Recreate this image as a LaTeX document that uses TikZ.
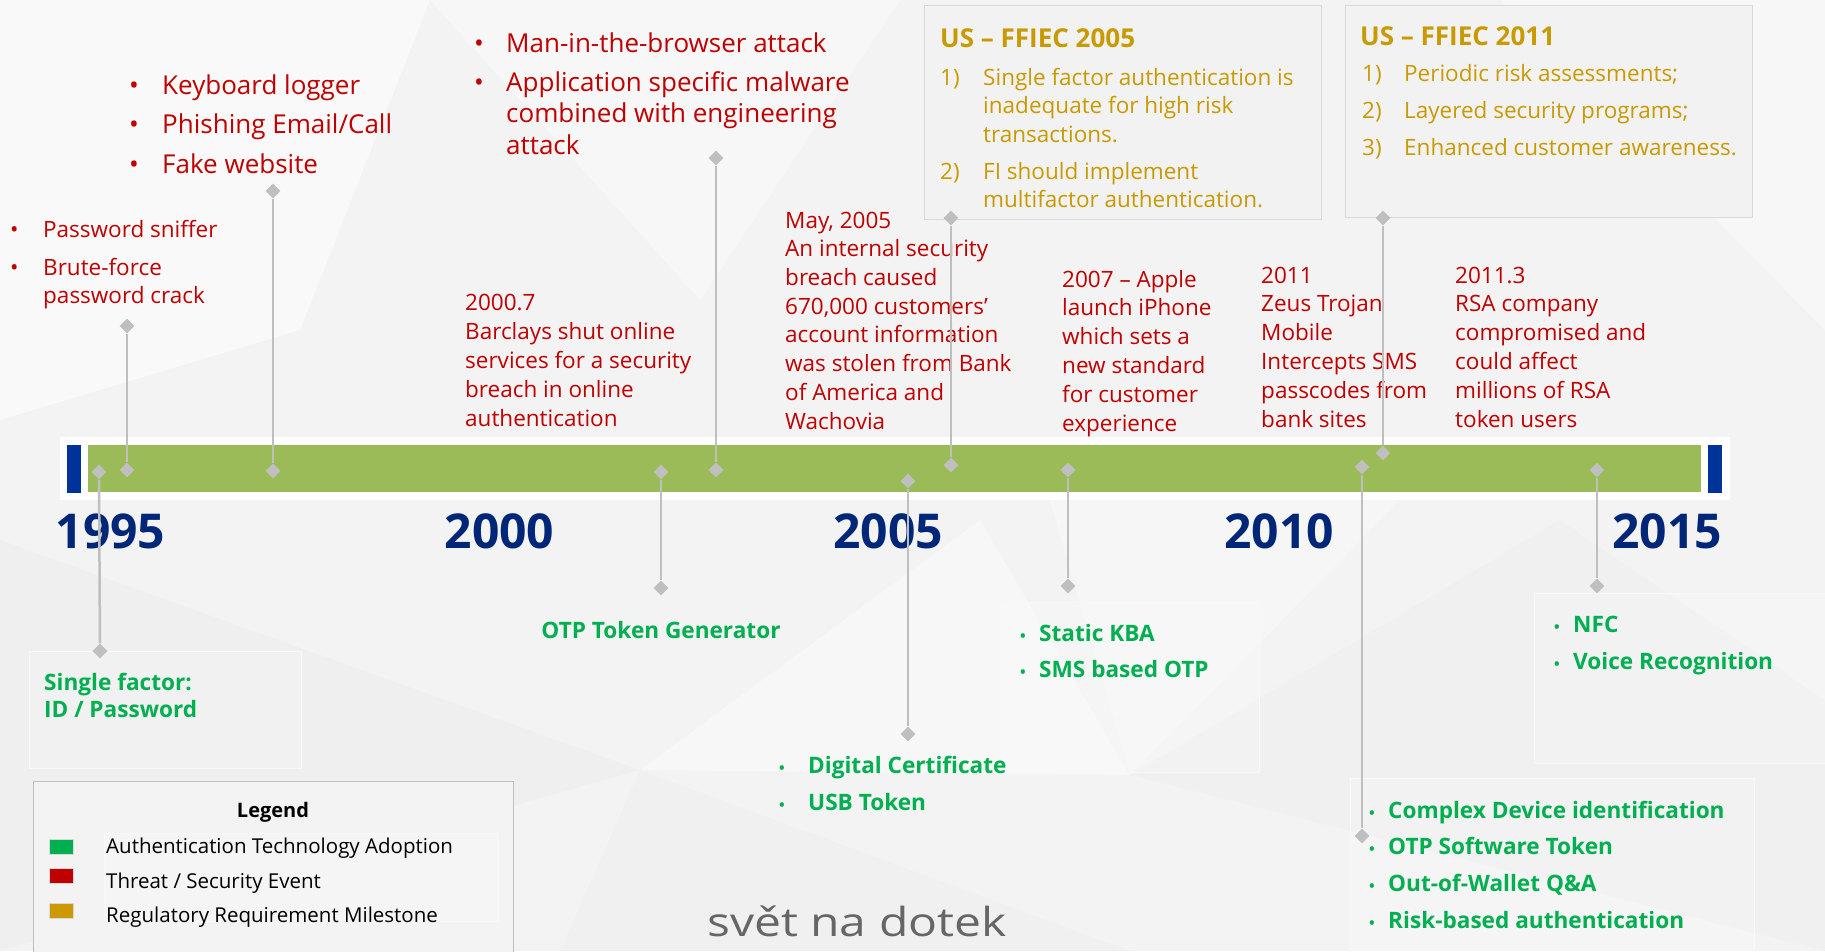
\documentclass[tikz,border=0pt]{standalone}
\usepackage{fontspec}
\setmainfont{Open Sans}
\usetikzlibrary{shapes.geometric}
\definecolor{bgc}{HTML}{F3F3F3}
\definecolor{barGreen}{HTML}{9BBB59}
\definecolor{barBlue}{HTML}{003399}
\definecolor{yearBlue}{HTML}{002677}
\definecolor{threat}{HTML}{C00000}
\definecolor{auth}{HTML}{00B050}
\definecolor{reg}{HTML}{C99A00}
\definecolor{conn}{HTML}{BFBFBF}
\newcommand{\mybul}[1]{\makebox[#1][l]{•}}
\newcommand{\gbul}[1]{\makebox[#1][l]{\fontsize{15}{15}\selectfont •}}
\tikzset{
  dia/.style={diamond, fill=conn, inner sep=0pt, minimum width=15pt, minimum height=15pt},
  link/.style={draw=conn, line width=2.5pt},
  txt/.style={inner sep=0pt, anchor=north west, align=left},
  threatS/.style={txt, text=threat, font=\fontsize{22.5}{28.8}\selectfont},
  threatL/.style={txt, text=threat, font=\fontsize{26}{31.5}\selectfont},
  regtext/.style={txt, text=reg, font=\fontsize{22.5}{28.5}\selectfont},
  regtitle/.style={inner sep=0pt, anchor=base west, text=reg, font=\fontsize{26}{30}\selectfont\bfseries},
  regbox/.style={draw=black!15, fill=black!5, line width=1pt, anchor=north west, inner sep=0pt},
  authtext/.style={txt, text=auth, font=\fontsize{22.6}{27}\selectfont\bfseries},
  year/.style={inner sep=0pt, anchor=base, text=yearBlue, font=\fontsize{48}{48}\selectfont\bfseries},
  faint/.style={draw=white!40!bgc, fill=white, fill opacity=0.18, line width=1pt},
  legsq/.style={minimum width=24pt, minimum height=15pt, inner sep=0pt, draw=black!15, line width=0.6pt},
  legtext/.style={inner sep=0pt, anchor=base west, text=black, font=\fontsize{20.5}{24}\selectfont},
}
\begin{document}
\begin{tikzpicture}[x=1pt,y=-1pt]
\useasboundingbox (0,0) rectangle (1825,951);
\clip (0,0) rectangle (1825,951);
% background
\fill[bgc] (0,0) rectangle (1825,951);
\fill[white, opacity=0.55] (0,0) -- (430,0) -- (300,330) -- (0,420) -- cycle;
\fill[white, opacity=0.4] (430,0) -- (900,0) -- (700,300) -- cycle;
\fill[black, opacity=0.015] (0,540) -- (640,770) -- (0,951) -- cycle;
\fill[black, opacity=0.012] (640,770) -- (1130,951) -- (560,951) -- cycle;
\fill[white, opacity=0.35] (640,770) -- (980,520) -- (1130,775) -- cycle;
\fill[black, opacity=0.012] (1130,775) -- (1560,520) -- (1825,700) -- (1825,951) -- cycle;
\fill[white, opacity=0.4] (1500,0) -- (1825,0) -- (1825,330) -- cycle;
\fill[white, opacity=0.3] (1050,500) -- (1400,500) -- (1130,775) -- cycle;

% faint boxes behind green texts
\draw[faint] (29,651) rectangle (301,768);
\draw[faint] (1001,602) rectangle (1259,772);
\draw[faint] (1534,593) rectangle (1830,763);
\draw[faint] (1350,778) rectangle (1754,960);

% timeline bar
\fill[white] (60,437) rectangle (1730,500);
\fill[barGreen] (88,445) rectangle (1701,492);
\fill[barBlue] (67,445) rectangle (81,493);
\fill[barBlue] (1708,445) rectangle (1722,493);

% years
\node[year] (y1995) at (110.5,548) {1995};
\node[year] (y2000) at (499.5,548) {2000};
\node[year] (y2005) at (888,548) {2005};
\node[year] (y2010) at (1279,548) {2010};
\node[year] (y2015) at (1667,548) {2015};

% regulatory boxes
\node[regbox, minimum width=397pt, minimum height=214pt] (box05) at (924,5) {};
\node[regbox, minimum width=407pt, minimum height=212pt] (box11) at (1345,5) {};
\node[regtitle] (t05) at (940,47) {US – FFIEC 2005};
\node[regtext] (r05) at (940,65.05) {\begin{tabular}{@{}l@{}l@{}}
\makebox[43pt][l]{1)} & Single factor authentication is\\
 & inadequate for high risk\\
 & transactions.\\[8.5pt]
\makebox[43pt][l]{2)} & FI should implement\\
 & multifactor authentication.
\end{tabular}};
\node[regtitle] (t11) at (1360,45) {US – FFIEC 2011};
\node[regtext, font=\fontsize{22.5}{37}\selectfont] (r11) at (1362,55.1) {\begin{tabular}{@{}l@{}l@{}}
\makebox[42pt][l]{1)} & Periodic risk assessments;\\
\makebox[42pt][l]{2)} & Layered security programs;\\
\makebox[42pt][l]{3)} & Enhanced customer awareness.
\end{tabular}};

% threat texts
\node[threatS, font=\fontsize{22.5}{28}\selectfont] (thA) at (10,217.4) {\begin{tabular}{@{}l@{}l@{}}
\mybul{33pt} & Password sniffer\\[10pt]
\mybul{33pt} & Brute-force\\
 & password crack
\end{tabular}};
\node[threatL, font=\fontsize{26}{39.5}\selectfont] (thB) at (129,66.35) {\begin{tabular}{@{}l@{}l@{}}
\mybul{33pt} & Keyboard logger\\
\mybul{33pt} & Phishing Email/Call\\
\mybul{33pt} & Fake website
\end{tabular}};
\node[threatL] (thC) at (474,29.95) {\begin{tabular}{@{}l@{}l@{}}
\mybul{32pt} & Man-in-the-browser attack\\[7.5pt]
\mybul{32pt} & Application specific malware\\
 & combined with engineering\\
 & attack
\end{tabular}};
\node[threatS, font=\fontsize{22.5}{29}\selectfont] (thD) at (465,289.7) {\begin{tabular}{@{}l@{}}
2000.7\\ Barclays shut online\\ services for a security\\ breach in online\\ authentication
\end{tabular}};
\node[threatS, font=\fontsize{22.5}{28.7}\selectfont] (thE) at (785,207.9) {\begin{tabular}{@{}l@{}}
May, 2005\\ An internal security\\ breach caused\\ 670,000 customers'\\ account information\\ was stolen from Bank\\ of America and\\ Wachovia
\end{tabular}};
\node[threatS] (thF) at (1062,266.8) {\begin{tabular}{@{}l@{}}
2007 – Apple\\ launch iPhone\\ which sets a\\ new standard\\ for customer\\ experience
\end{tabular}};
\node[threatS] (thG) at (1261,262.8) {\begin{tabular}{@{}l@{}}
2011\\ Zeus Trojan\\ Mobile\\ Intercepts SMS\\ passcodes from\\ bank sites
\end{tabular}};
\node[threatS] (thH) at (1455,262.8) {\begin{tabular}{@{}l@{}}
2011.3\\ RSA company\\ compromised and\\ could affect\\ millions of RSA\\ token users
\end{tabular}};

% authentication texts
\node[authtext] (auA) at (44,671.1) {\begin{tabular}{@{}l@{}}
Single factor:\\ ID / Password
\end{tabular}};
\node[authtext, anchor=base] (auB) at (661,638) {OTP Token Generator};
\node[authtext, font=\fontsize{22.6}{37}\selectfont\bfseries] (auC) at (779,747.1) {\begin{tabular}{@{}l@{}l@{}}
\gbul{29pt} & Digital Certificate\\
\gbul{29pt} & USB Token
\end{tabular}};
\node[authtext, font=\fontsize{22.6}{36}\selectfont\bfseries] (auD) at (1020,615.8) {\begin{tabular}{@{}l@{}l@{}}
\gbul{19pt} & Static KBA\\
\gbul{19pt} & SMS based OTP
\end{tabular}};
\node[authtext, font=\fontsize{22.6}{37}\selectfont\bfseries] (auE) at (1554,606.1) {\begin{tabular}{@{}l@{}l@{}}
\gbul{19pt} & NFC\\
\gbul{19pt} & Voice Recognition
\end{tabular}};
\node[authtext, font=\fontsize{22.6}{36.7}\selectfont\bfseries] (auF) at (1369,792.3) {\begin{tabular}{@{}l@{}l@{}}
\gbul{19pt} & Complex Device identification\\
\gbul{19pt} & OTP Software Token\\
\gbul{19pt} & Out-of-Wallet Q\&A\\
\gbul{19pt} & Risk-based authentication
\end{tabular}};

% connector diamonds
\node[dia] (c1a) at (99,472) {};   \node[dia] (c1b) at (100,651) {};
\node[dia] (c2a) at (127,470) {};  \node[dia] (c2b) at (127,326) {};
\node[dia] (c3a) at (273,471) {};  \node[dia] (c3b) at (273,191) {};
\node[dia] (c4a) at (661,472) {};  \node[dia] (c4b) at (661,588) {};
\node[dia] (c5a) at (716,470) {};  \node[dia] (c5b) at (716,158) {};
\node[dia] (c6a) at (951,465) {};  \node[dia] (c6b) at (951,218) {};
\node[dia] (c7a) at (908,481) {};  \node[dia] (c7b) at (908,734) {};
\node[dia] (c8a) at (1068,470) {}; \node[dia] (c8b) at (1068,586) {};
\node[dia] (c9a) at (1362,467) {}; \node[dia] (c9b) at (1362,836) {};
\node[dia] (c10a) at (1383,453) {};\node[dia] (c10b) at (1383,218) {};
\node[dia] (c11a) at (1597,470) {};\node[dia] (c11b) at (1597,586) {};
\foreach \n in {1,...,11} { \draw[link] (c\n a) -- (c\n b); }

% legend
\node[draw=black!25, fill=bgc, line width=1.2pt, anchor=north west, minimum width=480pt, minimum height=200pt, inner sep=0pt] (legbox) at (33,781) {};
\node[inner sep=0pt, anchor=base, font=\fontsize{20}{24}\selectfont\bfseries] (legtitle) at (273,817) {Legend};
\draw[faint] (104,833) rectangle (498,921);
\node[legsq, fill=auth] (sqA) at (61,846.5) {};
\node[legsq, fill=threat] (sqB) at (61,876) {};
\node[legsq, fill={rgb,255:red,204;green,153;blue,0}] (sqC) at (61,910.5) {};
\node[legtext] (lgA) at (106,853) {Authentication Technology Adoption};
\node[legtext] (lgB) at (106,888) {Threat / Security Event};
\node[legtext] (lgC) at (106,922) {Regulatory Requirement Milestone};

% watermark
\node[inner sep=0pt, anchor=base west, text=black!60, xscale=1.2, font=\fontsize{40}{40}\selectfont] (logo) at (707,936) {svět na dotek};
\end{tikzpicture}
\end{document}
